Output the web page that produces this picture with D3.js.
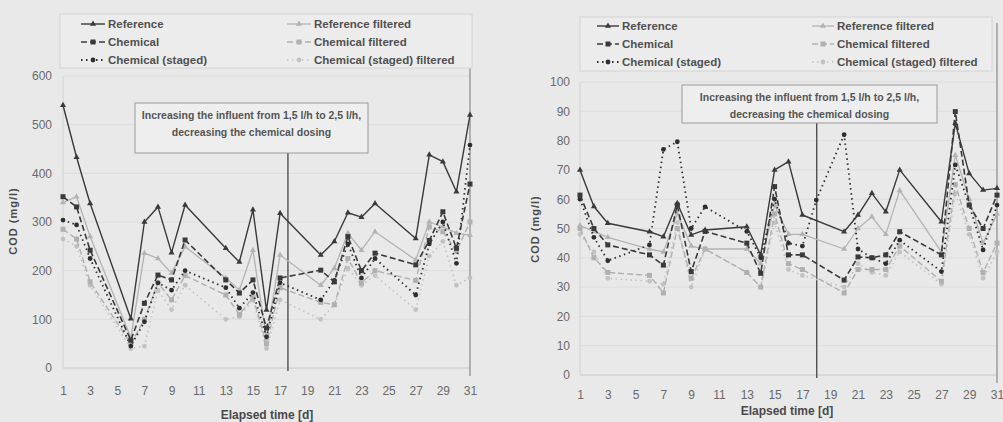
<!DOCTYPE html>
<html>
<head>
<meta charset="utf-8">
<script src="https://cdn.jsdelivr.net/npm/d3@7"></script>
<style>
  body { margin: 0; background: #e9e9e9; }
  svg { display: block; font-family: "Liberation Sans Narrow", "Liberation Sans", Arial, sans-serif; }
  .tick text { fill: #6a6a6a; font-size: 12px; }
  .tick line { display: none; }
  .domain { display: none; }
</style>
</head>
<body>
<svg id="chart" width="1003" height="422"></svg>
<script>
// ---- data ----
const leftDays = [1, 2, 3, 6, 7, 8, 9, 10, 13, 14, 15, 16, 17, 20, 21, 22, 23, 24, 27, 28, 29, 30, 31];
const leftReference = [540, 433, 338, 101, 300, 331, 237, 335, 246, 218, 325, 119, 318, 232, 260, 319, 310, 338, 266, 438, 424, 362, 520];
const leftChemical = [352, 331, 242, 57, 133, 191, 181, 263, 181, 154, 181, 82, 185, 201, 177, 270, 200, 236, 212, 262, 321, 246, 378];
const leftStaged = [304, 294, 225, 45, 95, 175, 160, 200, 165, 123, 155, 64, 175, 140, 180, 255, 185, 225, 150, 255, 300, 215, 458];
const leftRefFiltered = [340, 352, 270, 62, 236, 225, 195, 249, 185, 160, 242, 60, 232, 170, 205, 277, 242, 280, 222, 300, 290, 277, 273];
const leftChemFiltered = [285, 265, 177, 50, 100, 175, 140, 190, 150, 110, 145, 50, 165, 135, 130, 225, 175, 200, 180, 290, 280, 240, 300];
const leftStagedFiltered = [265, 250, 170, 40, 45, 160, 120, 170, 100, 105, 140, 40, 140, 100, 130, 205, 170, 190, 120, 230, 260, 170, 185];

const rightDays = [1, 2, 3, 6, 7, 8, 9, 10, 13, 14, 15, 16, 17, 18, 20, 21, 22, 23, 24, 27, 28, 29, 30, 31];
const rightReference = [70, 57.5, 51.8, 48.9, 47.2, 58.6, 47.8, 49.5, 50.6, 41, 70, 72.8, 54.6, null, 48.9, 54.6, 62, 55.7, 70, 52.3, 85.9, 68.8, 63.1, 63.7];
const rightChemical = [61.4, 50, 44.4, 41, 37.5, 58, 35.3, 49, 45, 34.7, 64.3, 41, 41, null, 32.4, 40.3, 40, 41, 48.9, 41, 89.9, 58, 50, 61.4];
const rightStaged = [60, 47, 39, 44.4, 77, 79.6, 50, 57.4, 49, 40, 60, 45, 44, 59.7, 82, 43, 40, 38, 46, 35.3, 71.7, 58, 42.7, 58];
const rightRefFiltered = [51, 49, 47, 43, 42, 55, 44, 43, 43, 38, 58, 48, 48, null, 43, 50, 54, 48, 63, 42, 75, 60, 45, 55];
const rightChemFiltered = [50, 40, 35, 34, 28, 50, 33, 43, 35, 30, 55, 38, 36, null, 28, 36, 36, 36, 44, 32, 65, 50, 35, 45];
const rightStagedFiltered = [48, 42, 33, 32, 31, 52, 30, 43, 35, 30, 52, 36, 34, null, 30, 38, 35, 34, 42, 31, 62, 48, 33, 42];

const seriesNames = ['Reference', 'Chemical', 'Chemical (staged)', 'Reference filtered', 'Chemical filtered', 'Chemical (staged) filtered'];
const xTicks = d3.range(1, 32, 2);
const leftYTicks = [0, 100, 200, 300, 400, 500, 600];
const rightYTicks = [0, 10, 20, 30, 40, 50, 60, 70, 80, 90, 100];
const noteLines = ['Increasing the influent from 1,5 l/h to 2,5 l/h,', 'decreasing the chemical dosing'];

// line / marker styles per series
const styles = [
  { color: '#3a3a3a', width: 1.4, dash: null, marker: 'triangle' },
  { color: '#3a3a3a', width: 1.6, dash: '6,3', marker: 'square' },
  { color: '#2e2e2e', width: 1.8, dash: '1.5,3.5', marker: 'circle' },
  { color: '#b3b3b3', width: 1.3, dash: null, marker: 'triangle' },
  { color: '#b0b0b0', width: 1.4, dash: '6,3', marker: 'square' },
  { color: '#c2c2c2', width: 1.6, dash: '1.5,3.5', marker: 'circle' }
];

const svg = d3.select('#chart');

function drawMarker(g, type, x, y, color) {
  if (type === 'square') {
    g.append('rect').attr('x', x - 2.5).attr('y', y - 2.5).attr('width', 5).attr('height', 5).attr('fill', color);
  } else if (type === 'circle') {
    g.append('circle').attr('cx', x).attr('cy', y).attr('r', 2.4).attr('fill', color);
  } else {
    g.append('path').attr('d', d3.symbol(d3.symbolTriangle, 16)()).attr('transform', `translate(${x},${y})`).attr('fill', color);
  }
}

function drawChart(cfg) {
  const g = svg.append('g');

  const x = d3.scaleLinear().domain([1, 31]).range([cfg.left, cfg.right]);
  const y = d3.scaleLinear().domain([0, cfg.yMax]).range([cfg.bottom, cfg.top]);

  // gridlines
  g.append('g').selectAll('line').data(cfg.yTicks).enter().append('line')
    .attr('x1', cfg.left).attr('x2', cfg.right)
    .attr('y1', d => y(d)).attr('y2', d => y(d))
    .attr('stroke', d => d === 0 ? '#c8c8c8' : '#dddddd').attr('stroke-width', 1);

  // plot borders
  g.append('line').attr('x1', cfg.left).attr('x2', cfg.left).attr('y1', y(cfg.yMax)).attr('y2', y(0))
    .attr('stroke', '#d2d2d2');
  g.append('line').attr('x1', cfg.right).attr('x2', cfg.right).attr('y1', cfg.legend.y1 + 6).attr('y2', y(0) + 8)
    .attr('stroke', '#8a8a8a').attr('stroke-width', 1.2);

  // axes
  g.append('g').attr('transform', `translate(0,${y(0)})`)
    .call(d3.axisBottom(x).tickValues(xTicks).tickSize(0).tickPadding(cfg.xPad));
  g.append('g').attr('transform', `translate(${cfg.left},0)`)
    .call(d3.axisLeft(y).tickValues(cfg.yTicks).tickSize(0).tickPadding(cfg.yPad));

  g.append('text').attr('x', cfg.xTitleX).attr('y', cfg.xTitleY).attr('text-anchor', 'middle')
    .attr('fill', '#4a4a4a').attr('font-size', 12).attr('font-weight', 'bold').text('Elapsed time [d]');
  g.append('text').attr('transform', `translate(${cfg.yTitleX},${cfg.yTitleY}) rotate(-90)`)
    .attr('text-anchor', 'middle').attr('fill', '#4a4a4a').attr('font-size', 11).attr('font-weight', 'bold')
    .attr('letter-spacing', 1).text('COD (mg/l)');

  // annotation: vertical line and box
  const n = cfg.note;
  g.append('line').attr('x1', x(n.day)).attr('x2', x(n.day)).attr('y1', n.y2).attr('y2', y(0) + 3)
    .attr('stroke', '#505050').attr('stroke-width', 1.4);
  g.append('rect').attr('x', n.x1).attr('y', n.y1).attr('width', n.x2 - n.x1).attr('height', n.y2 - n.y1)
    .attr('fill', '#eeeeee').attr('stroke', '#9a9a9a').attr('stroke-width', 1);
  noteLines.forEach((t, i) => {
    g.append('text').attr('x', (n.x1 + n.x2) / 2).attr('y', n.y1 + 16 + i * 17).attr('text-anchor', 'middle')
      .attr('fill', '#555').attr('font-size', 10.5).attr('font-weight', 'bold').text(t);
  });

  // series, drawn light ones first
  const order = [5, 4, 3, 2, 1, 0];
  order.forEach(si => {
    const st = styles[si];
    const pts = cfg.days.map((d, i) => ({ day: d, v: cfg.series[si][i] })).filter(p => p.v != null);
    const line = d3.line().x(p => x(p.day)).y(p => y(p.v));
    g.append('path').datum(pts).attr('d', line).attr('fill', 'none')
      .attr('stroke', st.color).attr('stroke-width', st.width)
      .attr('stroke-dasharray', st.dash).attr('stroke-linejoin', 'round');
    const mg = g.append('g');
    pts.forEach(p => drawMarker(mg, st.marker, x(p.day), y(p.v), st.color));
  });

  // legend
  const L = cfg.legend;
  g.append('rect').attr('x', L.x1).attr('y', L.y1).attr('width', L.x2 - L.x1).attr('height', L.y2 - L.y1)
    .attr('fill', '#ececec').attr('stroke', '#d4d4d4');
  seriesNames.forEach((name, i) => {
    const col = Math.floor(i / 3), row = i % 3;
    const sx = L.cols[col], sy = L.rows[row];
    const st = styles[i];
    g.append('line').attr('x1', sx).attr('x2', sx + L.symW).attr('y1', sy).attr('y2', sy)
      .attr('stroke', st.color).attr('stroke-width', st.width).attr('stroke-dasharray', st.dash);
    drawMarker(g, st.marker, sx + L.symW / 2, sy, st.color);
    g.append('text').attr('x', sx + L.symW + 3).attr('y', sy + 4).attr('fill', '#505050')
      .attr('font-size', 11.5).attr('font-weight', 'bold').text(name);
  });
}

drawChart({
  days: leftDays,
  series: [leftReference, leftChemical, leftStaged, leftRefFiltered, leftChemFiltered, leftStagedFiltered],
  left: 63, right: 470, top: 76, bottom: 368, yMax: 600, yTicks: leftYTicks,
  xPad: 18, yPad: 11,
  xTitleX: 267, xTitleY: 419, yTitleX: 17, yTitleY: 221,
  note: { day: 17.58, x1: 135, x2: 368, y1: 103, y2: 153 },
  legend: { x1: 60, x2: 472, y1: 14, y2: 68, cols: [81, 287], rows: [24, 42, 60], symW: 24 }
});

drawChart({
  days: rightDays,
  series: [rightReference, rightChemical, rightStaged, rightRefFiltered, rightChemFiltered, rightStagedFiltered],
  left: 580, right: 997, top: 82, bottom: 375, yMax: 100, yTicks: rightYTicks,
  xPad: 15, yPad: 10,
  xTitleX: 787, xTitleY: 415, yTitleX: 539, yTitleY: 229,
  note: { day: 18.03, x1: 682, x2: 937, y1: 85, y2: 123 },
  legend: { x1: 580, x2: 992, y1: 17, y2: 71, cols: [597, 812], rows: [26, 44, 62], symW: 22 }
});
</script>
</body>
</html>
